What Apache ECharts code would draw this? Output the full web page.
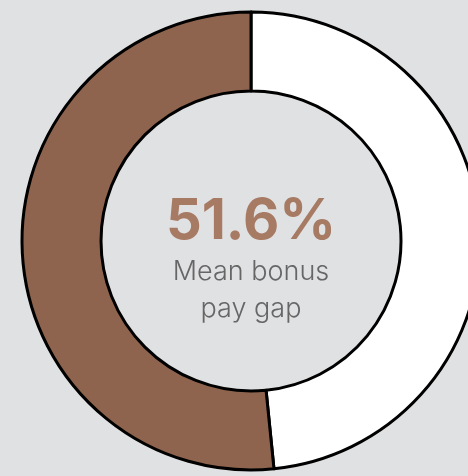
<!DOCTYPE html>
<html>
<head>
<meta charset="utf-8">
<script src="https://cdn.jsdelivr.net/npm/echarts@6/dist/echarts.min.js"></script>
<style>
    html, body { margin: 0; padding: 0; background: #e0e1e3; }
    #donut { width: 468px; height: 476px; }
</style>
</head>
<body>

<div id="donut"></div>

<script>
    // values
    var names = ['Other', 'Mean bonus pay gap'];
    var values = [48.4, 51.6];
    var colors = ['#ffffff', '#8f644e'];
    var bigLabel = '51.6%';
    var subLines = ['Mean bonus', 'pay gap'];

    var myChart = echarts.init(document.getElementById('donut'));

    var data = names.map(function (n, i) {
        return { name: n, value: values[i], itemStyle: { color: colors[i] } };
    });

    option = {
        backgroundColor: '#e0e1e3',
        animation: false,
        graphic: [
            {
                type: 'text',
                style: {
                    text: bigLabel,
                    x: 251,
                    y: 222,
                    align: 'center',
                    verticalAlign: 'middle',
                    fill: '#a77a64',
                    font: 'bold 56px Inter, "Liberation Sans", sans-serif'
                }
            },
            {
                type: 'text',
                style: {
                    text: subLines.join('\n'),
                    x: 251,
                    y: 253,
                    align: 'center',
                    fill: '#666666',
                    lineHeight: 37,
                    font: '300 27px Inter, "Liberation Sans", sans-serif'
                }
            }
        ],
        series: [
            {
                type: 'pie',
                center: [251, 241],
                radius: [150, 229],
                startAngle: 90,
                clockwise: true,
                silent: true,
                label: { show: false },
                labelLine: { show: false },
                itemStyle: {
                    borderColor: '#000000',
                    borderWidth: 3
                },
                data: data
            }
        ]
    };

    myChart.setOption(option);
</script>

</body>
</html>
